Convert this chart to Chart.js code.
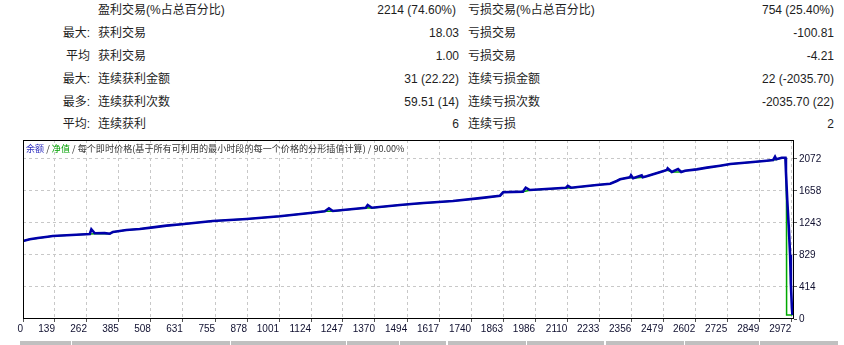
<!DOCTYPE html>
<html lang="zh">
<head>
<meta charset="UTF-8">
<title>测试报告</title>
<script src="https://cdn.jsdelivr.net/npm/chart.js"></script>
<style>
    body {
        margin: 0;
        padding: 0;
        background: #ffffff;
        width: 844px;
        height: 345px;
        overflow: hidden;
        position: relative;
        font-family: 'Liberation Sans', 'Noto Sans CJK SC', sans-serif;
        font-size: 12px;
        color: #1e1e1e;
    }
    .cell {
        position: absolute;
        line-height: 14px;
        white-space: nowrap;
    }
    .a { right: 754px; text-align: right; }
    .b { left: 98px; }
    .c { right: 385px; text-align: right; }
    .d { left: 468px; }
    .e { right: 10px; text-align: right; }
    #chartBox {
        position: absolute;
        left: 0;
        top: 0;
        width: 844px;
        height: 345px;
    }
    #title {
        position: absolute;
        left: 26px;
        top: 142px;
        font-size: 9.1px;
        line-height: 13px;
        white-space: nowrap;
        color: #333;
        font-family: 'Noto Sans CJK SC', sans-serif;
    }
    .bar {
        position: absolute;
        top: 341px;
        height: 4px;
        background: #c0c0c0;
    }
</style>
</head>
<body>
    <div class="cell b" style="top:3px">盈利交易(%占总百分比)</div>
    <div class="cell c" style="top:3px;right:388px">2214 (74.60%)</div>
    <div class="cell d" style="top:3px">亏损交易(%占总百分比)</div>
    <div class="cell e" style="top:3px">754 (25.40%)</div>

    <div class="cell a" style="top:26px">最大:</div>
    <div class="cell b" style="top:26px">获利交易</div>
    <div class="cell c" style="top:26px">18.03</div>
    <div class="cell d" style="top:26px">亏损交易</div>
    <div class="cell e" style="top:26px">-100.81</div>

    <div class="cell a" style="top:49px">平均</div>
    <div class="cell b" style="top:49px">获利交易</div>
    <div class="cell c" style="top:49px">1.00</div>
    <div class="cell d" style="top:49px">亏损交易</div>
    <div class="cell e" style="top:49px">-4.21</div>

    <div class="cell a" style="top:72px">最大:</div>
    <div class="cell b" style="top:72px">连续获利金额</div>
    <div class="cell c" style="top:72px">31 (22.22)</div>
    <div class="cell d" style="top:72px">连续亏损金额</div>
    <div class="cell e" style="top:72px">22 (-2035.70)</div>

    <div class="cell a" style="top:95px">最多:</div>
    <div class="cell b" style="top:95px">连续获利次数</div>
    <div class="cell c" style="top:95px">59.51 (14)</div>
    <div class="cell d" style="top:95px">连续亏损次数</div>
    <div class="cell e" style="top:95px">-2035.70 (22)</div>

    <div class="cell a" style="top:117px">平均:</div>
    <div class="cell b" style="top:117px">连续获利</div>
    <div class="cell c" style="top:117px">6</div>
    <div class="cell d" style="top:117px">连续亏损</div>
    <div class="cell e" style="top:117px">2</div>

    <div id="chartBox"><canvas id="chart"></canvas></div>

    <div id="title"><span style="color:#3030c0">余额</span> / <span style="color:#00a000">净值</span> / 每个即时价格(基于所有可利用的最小时段的每一个价格的分形插值计算) / 90.00%</div>

    <div class="bar" style="left:20px;width:51px"></div>
    <div class="bar" style="left:72px;width:158px"></div>
    <div class="bar" style="left:231px;width:115px"></div>
    <div class="bar" style="left:347px;width:52px"></div>
    <div class="bar" style="left:400px;width:46px"></div>
    <div class="bar" style="left:448px;width:78px"></div>
    <div class="bar" style="left:527px;width:77px"></div>
    <div class="bar" style="left:606px;width:78px"></div>
    <div class="bar" style="left:685px;width:74px"></div>
    <div class="bar" style="left:760px;width:78px"></div>

<script>
// balance curve (trade number / account balance)
const tradeNo = [16, 42, 73, 111, 130, 221, 273, 279, 292, 330, 350, 362, 388, 414, 465, 516, 568, 626,
    746, 876, 1004, 1120, 1177, 1193, 1208, 1335, 1342, 1358, 1466, 1543, 1670, 1774, 1851, 1863, 1939,
    1950, 1966, 2105, 2112, 2124, 2223, 2275, 2300, 2313, 2351, 2355, 2363, 2396, 2400, 2415, 2440, 2459,
    2493, 2496, 2512, 2536, 2548, 2563, 2608, 2647, 2698, 2737, 2814, 2877, 2902, 2909, 2914, 2935, 2949,
    2951, 2956, 2962, 2967, 2970, 2974, 2976];
const balance = [1010, 1032, 1049, 1066, 1075, 1092, 1101, 1162, 1110, 1112, 1105, 1127, 1140, 1153, 1166,
    1187, 1209, 1226, 1269, 1295, 1330, 1373, 1395, 1433, 1399, 1441, 1476, 1441, 1476, 1498, 1528, 1565,
    1597, 1641, 1649, 1700, 1670, 1700, 1725, 1700, 1735, 1752, 1787, 1809, 1835, 1861, 1822, 1861, 1835,
    1848, 1874, 1895, 1930, 1951, 1904, 1942, 1904, 1921, 1938, 1960, 1985, 2007, 2029, 2050, 2060, 2102,
    2068, 2089, 2089, 1908, 1541, 1187, 829, 453, 139, 52];

// equity curve
const equityNo = [16, 42, 73, 111, 130, 221, 273, 292, 330, 350, 362, 388, 414, 465, 516, 568, 626, 746,
    876, 1004, 1120, 1177, 1208, 1335, 1358, 1466, 1543, 1670, 1774, 1851, 1863, 1939, 1966, 2105, 2124,
    2223, 2275, 2300, 2313, 2351, 2363, 2400, 2415, 2440, 2459, 2493, 2512, 2548, 2563, 2608, 2647, 2698,
    2737, 2814, 2877, 2902, 2914, 2935, 2949, 2951, 2953, 2953.5, 2976];
const equity = [1010, 1032, 1045, 1066, 1075, 1092, 1101, 1104, 1108, 1105, 1127, 1140, 1153, 1166, 1187,
    1209, 1226, 1269, 1295, 1330, 1373, 1395, 1396, 1441, 1439, 1476, 1496, 1528, 1565, 1597, 1641, 1649,
    1668, 1700, 1698, 1735, 1752, 1787, 1809, 1835, 1822, 1835, 1848, 1874, 1895, 1930, 1902, 1902, 1921,
    1938, 1960, 1985, 2007, 2029, 2050, 2060, 2066, 2089, 2089, 1908, 1541, 52, 52];

const xTickLabels = ['0', '139', '262', '385', '508', '631', '755', '878', '1001', '1124', '1247', '1370',
    '1494', '1617', '1740', '1863', '1986', '2110', '2233', '2356', '2479', '2602', '2725', '2849', '2972'];
const yTicks = [0, 414.4, 828.8, 1243.2, 1657.6, 2072];
const xMin = 16, xMax = 2982, yMax = 2318;

Chart.defaults.font.family = "'Liberation Sans', sans-serif";
Chart.defaults.font.size = 10;
Chart.defaults.color = '#101030';

const framePlugin = {
    id: 'frame',
    afterDraw(chart) {
        const a = chart.chartArea;
        const ctx = chart.ctx;
        ctx.save();
        ctx.strokeStyle = '#000';
        ctx.lineWidth = 1;
        ctx.strokeRect(Math.round(a.left) + 0.5, Math.round(a.top) + 0.5,
            Math.round(a.right - a.left) - 1, Math.round(a.bottom - a.top) - 1);
        ctx.restore();
    }
};

new Chart(document.getElementById('chart'), {
    type: 'line',
    data: {
        datasets: [{
            label: '余额',
            data: tradeNo.map((x, i) => ({ x: x, y: balance[i] })),
            borderColor: '#0000aa',
            borderWidth: 2.6,
            pointRadius: 0,
            tension: 0,
            order: 0
        }, {
            label: '净值',
            data: equityNo.map((x, i) => ({ x: x, y: equity[i] })),
            borderColor: '#00a800',
            borderWidth: 1.5,
            pointRadius: 0,
            tension: 0,
            order: 1
        }]
    },
    options: {
        responsive: true,
        maintainAspectRatio: false,
        animation: false,
        layout: { padding: { left: 23, top: 140, right: 0, bottom: 0 } },
        plugins: {
            legend: { display: false },
            tooltip: { enabled: false }
        },
        scales: {
            x: {
                type: 'linear',
                min: xMin,
                max: xMax,
                afterBuildTicks: (scale) => {
                    scale.ticks = xTickLabels.map((l, i) => ({ value: i === 0 ? xMin : Number(l) }));
                },
                afterFit: (scale) => { scale.height = 26; },
                ticks: {
                    autoSkip: false,
                    maxRotation: 0,
                    align: 'end',
                    padding: 1,
                    color: '#101030',
                    callback: (v, i) => xTickLabels[i]
                },
                grid: {
                    color: (ctx) => ctx.index === 0 ? 'rgba(0,0,0,0)' : '#c8c8c8',
                    tickColor: '#555',
                    tickLength: 3
                },
                border: { display: false, dash: [3, 3] }
            },
            y: {
                position: 'right',
                min: 0,
                max: yMax,
                afterBuildTicks: (scale) => {
                    scale.ticks = yTicks.map(v => ({ value: v }));
                },
                afterFit: (scale) => { scale.width = 50; },
                ticks: {
                    autoSkip: false,
                    padding: 2,
                    color: '#101030',
                    callback: (v) => Math.round(v)
                },
                grid: {
                    color: (ctx) => ctx.index === 0 ? 'rgba(0,0,0,0)' : '#c8c8c8',
                    tickColor: '#555',
                    tickLength: 3
                },
                border: { display: false, dash: [3, 3] }
            }
        }
    },
    plugins: [framePlugin]
});
</script>
</body>
</html>
